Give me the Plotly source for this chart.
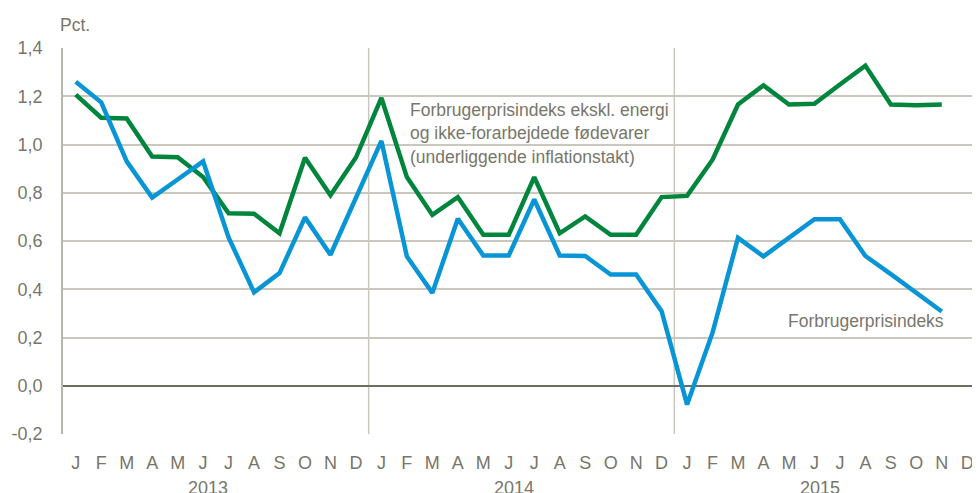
import plotly.graph_objects as go

months = ["J", "F", "M", "A", "M", "J", "J", "A", "S", "O", "N", "D"] * 3
years = ["2013", "2014", "2015"]

cpi = [1.26, 1.175, 0.93, 0.78, 0.855, 0.93, 0.615, 0.387, 0.467, 0.698, 0.543, 0.78,
       1.015, 0.536, 0.385, 0.692, 0.540, 0.540, 0.772, 0.540, 0.538, 0.461, 0.461, 0.309,
       -0.078, 0.22, 0.613, 0.536, 0.613, 0.690, 0.690, 0.538, 0.463, 0.386, 0.308]

core = [1.207, 1.111, 1.108, 0.950, 0.947, 0.865, 0.715, 0.713, 0.632, 0.945, 0.790, 0.946,
        1.193, 0.865, 0.708, 0.782, 0.626, 0.626, 0.865, 0.632, 0.702, 0.626, 0.626, 0.782,
        0.787, 0.937, 1.166, 1.245, 1.166, 1.169, 1.249, 1.327, 1.166, 1.163, 1.166]

core_label = ["Forbrugerprisindeks ekskl. energi",
              "og ikke-forarbejdede fødevarer",
              "(underliggende inflationstakt)"]
cpi_label = "Forbrugerprisindeks"

GREEN = "#00853D"
BLUE = "#0895D6"
TXT = "#78766B"
GRID = "#CAC8BE"
FONT = "Liberation Sans"

fig = go.Figure()
fig.add_trace(go.Scatter(x=list(range(len(core))), y=core, mode="lines",
                         line=dict(color=GREEN, width=4.5), hoverinfo="skip"))
fig.add_trace(go.Scatter(x=list(range(len(cpi))), y=cpi, mode="lines",
                         line=dict(color=BLUE, width=4.5), hoverinfo="skip"))

for b in [11.5, 23.5]:
    fig.add_shape(type="line", xref="x", yref="paper", x0=b, x1=b, y0=0, y1=1,
                  line=dict(color=GRID, width=1.5), layer="below")

for i, yr in enumerate(years):
    fig.add_annotation(x=12 * i + 5.2, y=-0.108, xref="x", yref="paper", text=yr,
                       showarrow=False, yanchor="top",
                       font=dict(family=FONT, size=18, color=TXT))

fig.add_annotation(x=-0.0055, y=1.06, xref="paper", yref="paper", text="Pct.",
                   showarrow=False, xanchor="left", yanchor="middle",
                   font=dict(family=FONT, size=17.5, color=TXT))

for line_txt, yv in zip(core_label, [1.145, 1.048, 0.950]):
    fig.add_annotation(x=13.05, y=yv, xref="x", yref="y", text=line_txt,
                       showarrow=False, xanchor="left", yanchor="middle", align="left",
                       font=dict(family=FONT, size=17.5, color=TXT))

fig.add_annotation(x=34.17, y=0.269, xref="x", yref="y", text=cpi_label,
                   showarrow=False, xanchor="right", yanchor="middle",
                   font=dict(family=FONT, size=17.5, color=TXT))

fig.update_layout(
    width=972, height=485,
    margin=dict(l=55, r=0, t=40, b=59),
    paper_bgcolor="white", plot_bgcolor="white",
    showlegend=False,
    xaxis=dict(range=[-0.5, 35.5], tickvals=list(range(36)), ticktext=months,
               showgrid=False, zeroline=False, showline=False,
               ticks="outside", ticklen=12, tickcolor="rgba(0,0,0,0)",
               tickfont=dict(family=FONT, size=18, color=TXT),
               fixedrange=True),
    yaxis=dict(range=[-0.2, 1.4], tickvals=[-0.2, 0, 0.2, 0.4, 0.6, 0.8, 1.0, 1.2, 1.4],
               ticktext=["-0,2", "0,0", "0,2", "0,4", "0,6", "0,8", "1,0", "1,2", "1,4"],
               showgrid=True, gridcolor=GRID, gridwidth=1.5,
               zeroline=True, zerolinecolor="#6F6C60", zerolinewidth=1.5,
               showline=True, linecolor="#B8B5AA", linewidth=1.5,
               ticks="outside", ticklen=15, tickcolor="rgba(0,0,0,0)",
               tickfont=dict(family=FONT, size=18, color=TXT),
               fixedrange=True),
)

fig.write_html("out.html")
